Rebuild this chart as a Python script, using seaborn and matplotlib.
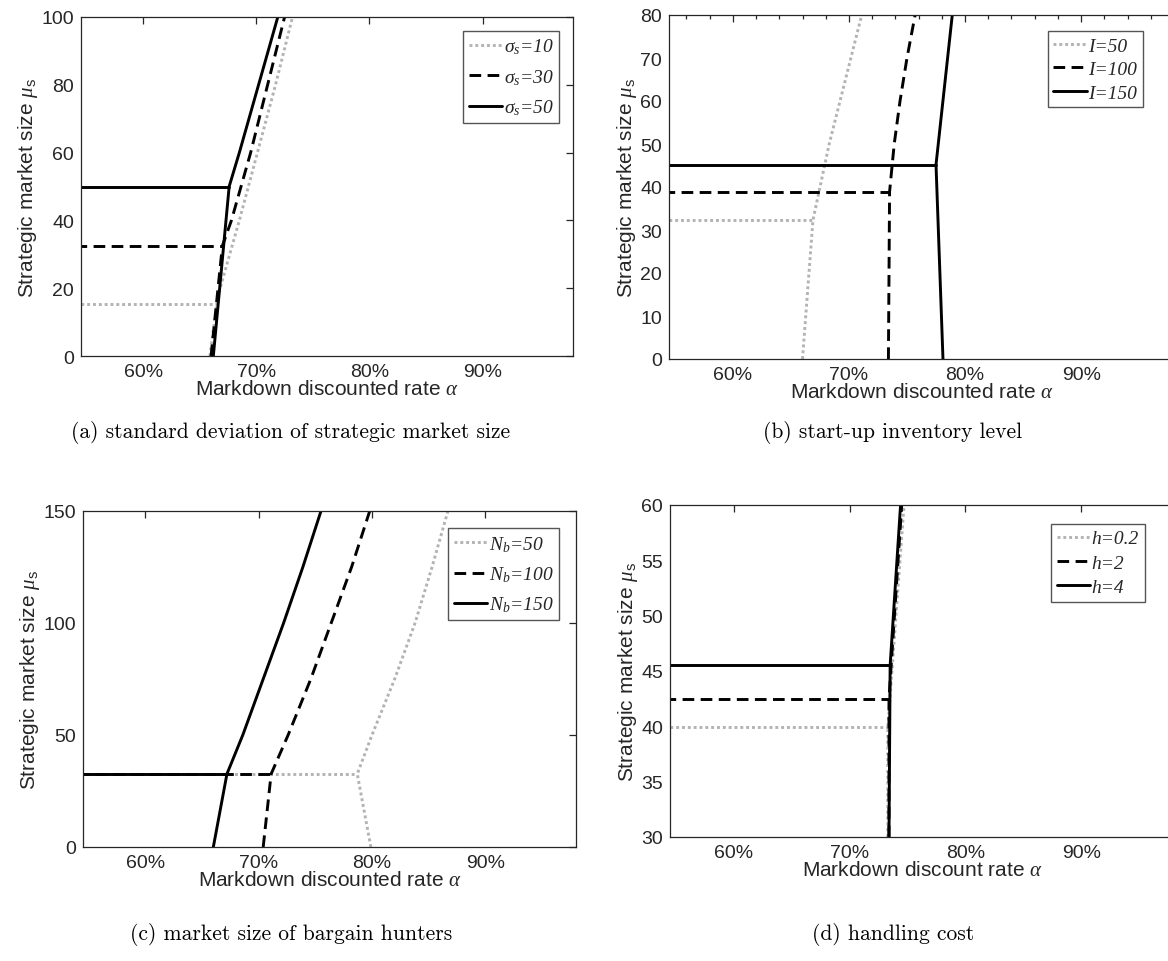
import numpy as np
import pandas as pd
import seaborn as sns
import matplotlib.pyplot as plt
from matplotlib.ticker import PercentFormatter, MultipleLocator

# ---- data (alpha as fraction, mu_s) ----
ALPHA_START = 0.54

# (a) standard deviation of strategic market size
a_labels = [r"$\sigma_s$=10", r"$\sigma_s$=30", r"$\sigma_s$=50"]
a_levels = [15.3, 32.5, 50.0]
a_curve_x = [
    [0.659, 0.665, 0.668, 0.685, 0.701, 0.717, 0.732],
    [0.660, 0.670, 0.678, 0.695, 0.710, 0.725],
    [0.662, 0.676, 0.685, 0.702, 0.719],
]
a_curve_y = [
    [0, 15.3, 20, 40, 60, 80, 100],
    [0, 32.5, 40, 60, 80, 100],
    [0, 50, 60, 80, 100],
]

# (b) start-up inventory level
b_labels = ["I=50", "I=100", "I=150"]
b_levels = [32.3, 38.9, 45.2]
b_curve_x = [
    [0.660, 0.669, 0.683, 0.711],
    [0.734, 0.735, 0.739, 0.744, 0.750, 0.757],
    [0.781, 0.775, 0.789],
]
b_curve_y = [
    [0, 32.3, 50, 80],
    [0, 38.9, 50, 60, 70, 80],
    [0, 45.2, 80],
]

# (c) market size of bargain hunters
c_labels = [r"$N_b$=50", r"$N_b$=100", r"$N_b$=150"]
c_levels = [32.6, 32.6, 32.6]
c_curve_x = [
    [0.799, 0.787, 0.800, 0.820, 0.838, 0.853, 0.867],
    [0.704, 0.711, 0.726, 0.746, 0.764, 0.782, 0.798],
    [0.660, 0.672, 0.686, 0.704, 0.722, 0.739, 0.755],
]
c_curve_y = [
    [0, 32.6, 50, 75, 100, 125, 150],
    [0, 32.6, 50, 75, 100, 125, 150],
    [0, 32.6, 50, 75, 100, 125, 150],
]

# (d) handling cost
d_labels = ["h=0.2", "h=2", "h=4"]
d_levels = [39.9, 42.5, 45.5]
d_curve_x = [
    [0.733, 0.733, 0.747],
    [0.734, 0.734, 0.745],
    [0.734, 0.735, 0.744],
]
d_curve_y = [
    [30, 39.9, 60],
    [30, 42.5, 60],
    [30, 45.5, 60],
]

captions = [
    "(a) standard deviation of strategic market size",
    "(b) start-up inventory level",
    "(c) market size of bargain hunters",
    "(d) handling cost",
]
x_labels = [
    r"Markdown discounted rate $\alpha$",
    r"Markdown discounted rate $\alpha$",
    r"Markdown discounted rate $\alpha$",
    r"Markdown discount rate $\alpha$",
]
y_ticks = [
    [0, 20, 40, 60, 80, 100],
    [0, 10, 20, 30, 40, 50, 60, 70, 80],
    [0, 50, 100, 150],
    [30, 35, 40, 45, 50, 55, 60],
]
x_ticks = [0.6, 0.7, 0.8, 0.9]


def build_frame(labels, levels, curve_x, curve_y):
    rows = []
    for i, lab in enumerate(labels):
        knee = curve_x[i][curve_y[i].index(levels[i])]
        # horizontal part, from the left edge to the kink
        rows.append(dict(alpha=ALPHA_START, mu=levels[i], series=lab, seg=f"{i}h"))
        rows.append(dict(alpha=knee, mu=levels[i], series=lab, seg=f"{i}h"))
        for x, y in zip(curve_x[i], curve_y[i]):
            rows.append(dict(alpha=x, mu=y, series=lab, seg=f"{i}c"))
    return pd.DataFrame(rows)


sns.set_style("white")
plt.rcParams["font.family"] = ["Liberation Sans", "DejaVu Sans"]
plt.rcParams["mathtext.fontset"] = "custom"
plt.rcParams["mathtext.it"] = "Liberation Serif:italic"
plt.rcParams["mathtext.rm"] = "Liberation Serif"
plt.rcParams["mathtext.sf"] = "Liberation Sans"

fig = plt.figure(figsize=(11.68, 9.62), dpi=100)
W, H = 1168, 962
# axes boxes in pixels: left, right, top, bottom
boxes = [
    (81, 573, 18, 357),
    (669, 1174, 16, 360),
    (83, 576, 512, 848),
    (670, 1174, 506, 838),
]
legend_anchor = [(0.972, 0.959), (0.939, 0.953), (0.966, 0.949), (0.942, 0.943)]
legend_spacing = [0.55, 0.3, 0.55, 0.35]
caption_pos = [(291, 433), (893, 433), (291, 935), (893, 935)]

panels = [
    (a_labels, a_levels, a_curve_x, a_curve_y),
    (b_labels, b_levels, b_curve_x, b_curve_y),
    (c_labels, c_levels, c_curve_x, c_curve_y),
    (d_labels, d_levels, d_curve_x, d_curve_y),
]

ink = "#262626"
for k, (labels, levels, cx, cy) in enumerate(panels):
    l, r, t, b = boxes[k]
    ax = fig.add_axes([l / W, 1 - b / H, (r - l) / W, (b - t) / H])
    df = build_frame(labels, levels, cx, cy)
    palette = {labels[0]: "#b3b3b3", labels[1]: "black", labels[2]: "black"}
    dashes = {labels[0]: (1, 1.0), labels[1]: (4, 2.2), labels[2]: ""}
    sns.lineplot(
        data=df, x="alpha", y="mu", hue="series", style="series",
        units="seg", estimator=None, sort=False,
        palette=palette, dashes=dashes, hue_order=labels, style_order=labels,
        linewidth=2.1, ax=ax,
    )
    ax.set_xlim(0.545, 0.98)
    ax.set_ylim(y_ticks[k][0], y_ticks[k][-1])
    ax.set_xticks(x_ticks)
    ax.set_yticks(y_ticks[k])
    ax.xaxis.set_major_formatter(PercentFormatter(xmax=1, decimals=0))
    if k == 1:
        ax.xaxis.set_minor_locator(MultipleLocator(0.02))
    ax.tick_params(which="both", direction="in", top=True, right=(k % 2 == 0),
                   colors=ink, labelsize=14, length=5, width=0.9, pad=5)
    ax.tick_params(which="minor", length=3)
    for sp in ax.spines.values():
        sp.set_color(ink)
        sp.set_linewidth(0.9)
    ax.set_xlabel(x_labels[k], fontsize=15, color=ink, labelpad=-1)
    ax.set_ylabel(r"Strategic market size $\mu_{\mathsf{s}}$", fontsize=15,
                  color=ink, labelpad=1)

    handles, labs = ax.get_legend_handles_labels()
    leg = ax.legend(
        handles, labs, loc="upper right", bbox_to_anchor=legend_anchor[k],
        prop={"family": "Liberation Serif", "style": "italic", "size": 14},
        frameon=True, fancybox=False, edgecolor="#555555", framealpha=1,
        handlelength=1.7, handletextpad=0.1, labelspacing=legend_spacing[k],
        borderpad=0.3, borderaxespad=0,
    )
    leg.get_frame().set_linewidth(1.0)

    cx_, cy_ = caption_pos[k]
    fig.text(cx_ / W, 1 - cy_ / H, captions[k], family="cmr10", fontsize=15.5,
             ha="center", va="center", color="black")

fig.savefig("out.png", dpi=100)
